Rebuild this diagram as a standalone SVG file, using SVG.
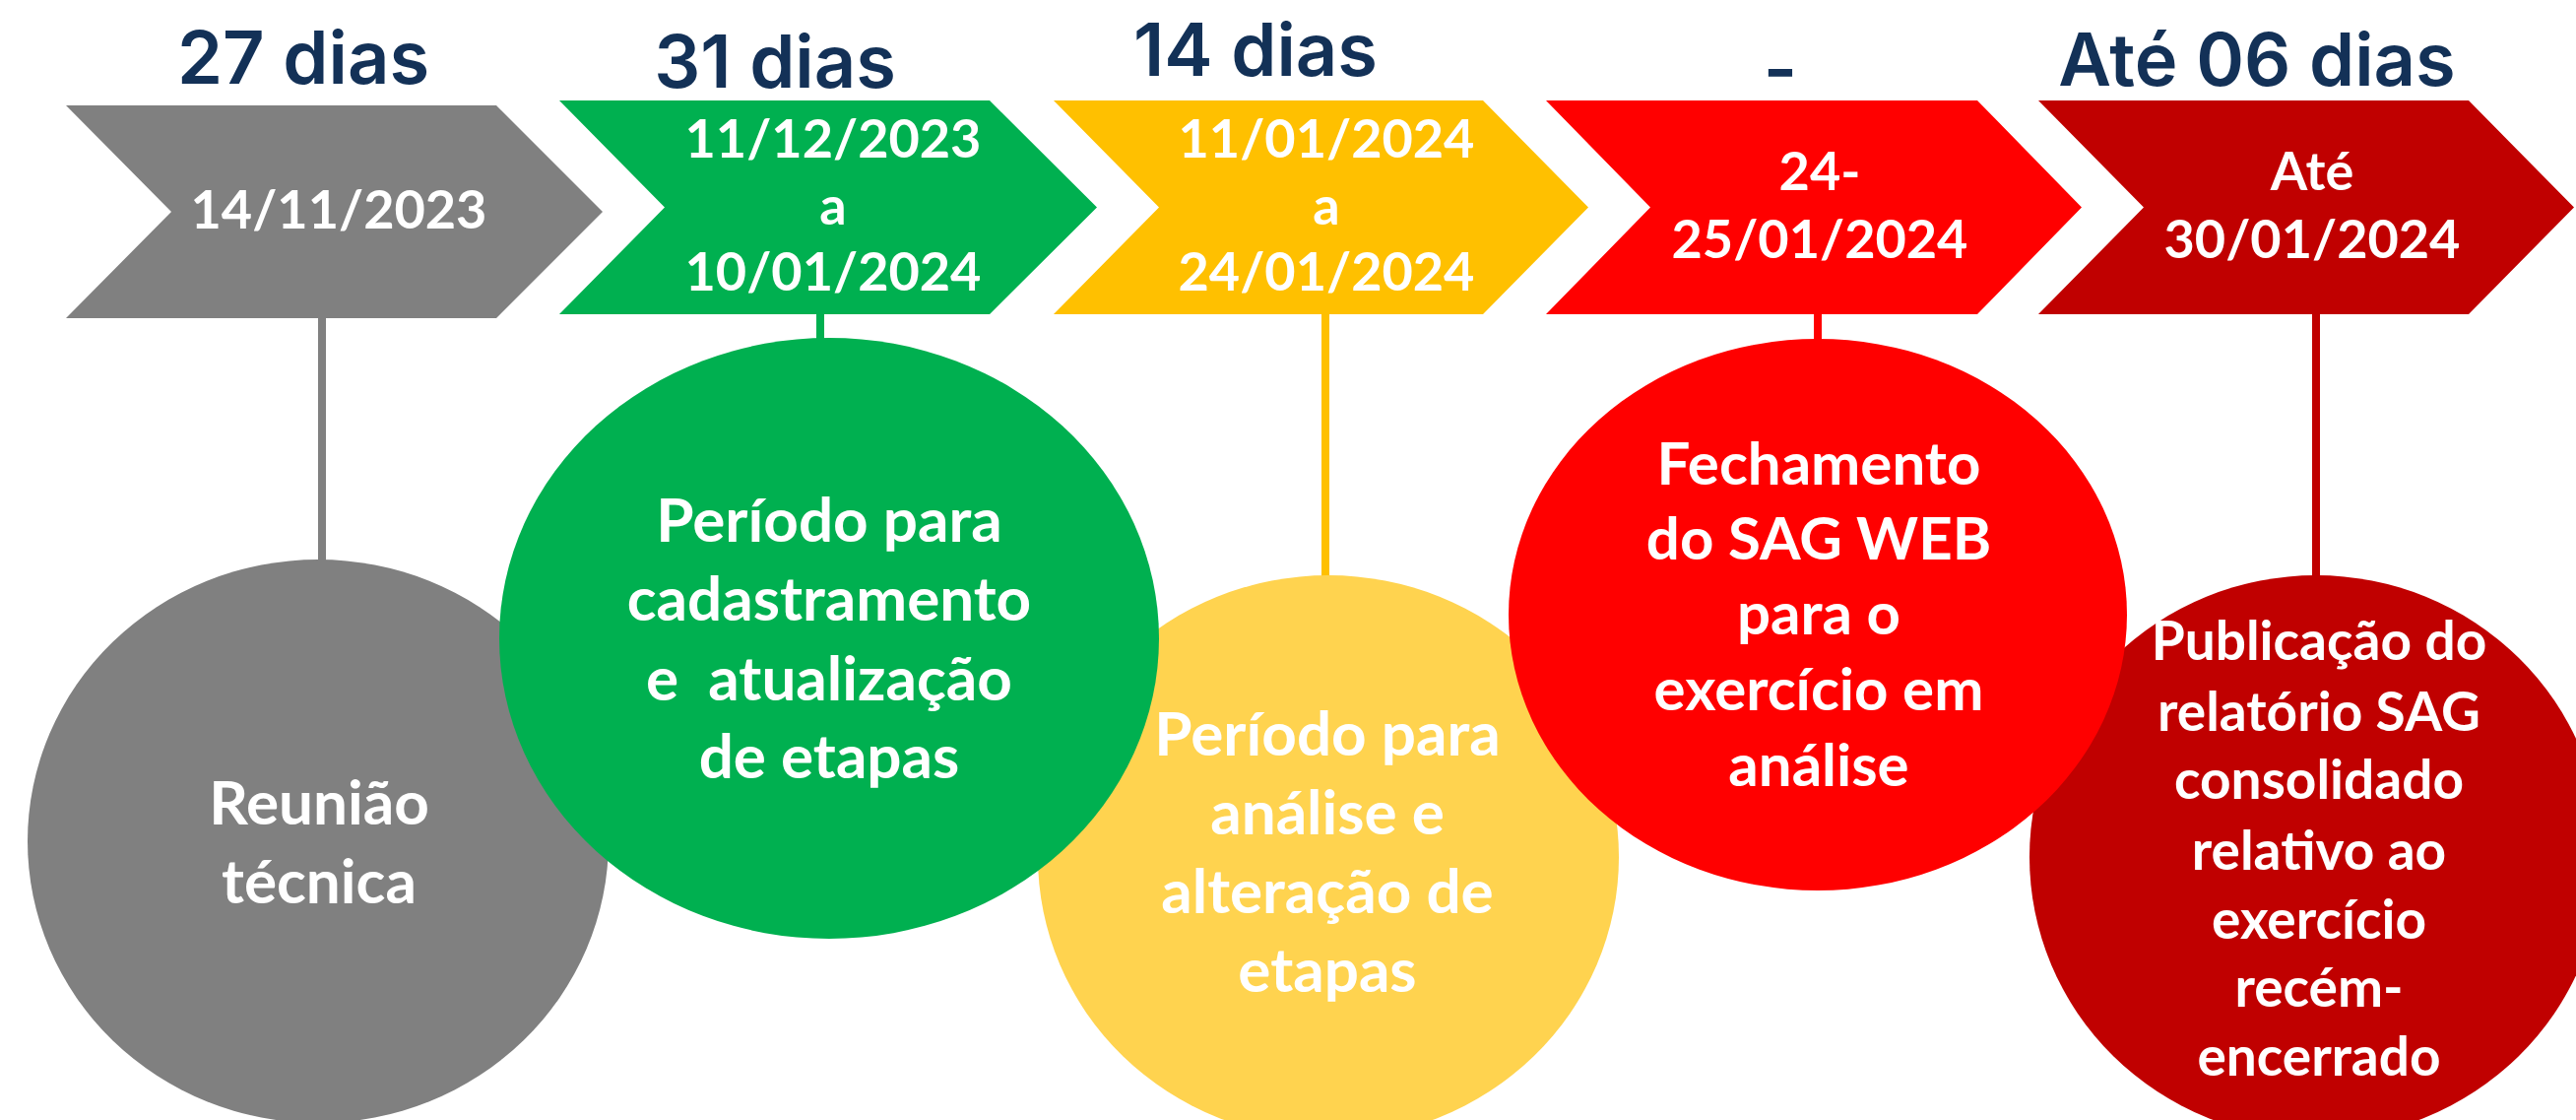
<svg xmlns="http://www.w3.org/2000/svg" width="2616" height="1137" viewBox="0 0 2616 1137">
<style>
.hd{font-family:Inter,"Noto Sans",sans-serif;font-weight:600;font-size:74px;fill:#133157;text-anchor:middle}
.dt{font-family:Lato,"Open Sans",sans-serif;font-weight:700;font-size:54px;fill:#fff;text-anchor:middle}
.bt{font-family:Lato,"Open Sans",sans-serif;font-weight:700;font-size:62px;fill:#fff;text-anchor:middle;white-space:pre}
.br{font-family:Lato,"Open Sans",sans-serif;font-weight:700;font-size:60px;fill:#fff;text-anchor:middle}
.bs{font-family:Lato,"Open Sans",sans-serif;font-weight:700;font-size:55px;fill:#fff;text-anchor:middle}
.ln{stroke-width:8;fill:none}
</style>
<rect width="2616" height="1137" fill="#fff"/>
<g id="headings">
<text class="hd" x="308" y="85">27 dias</text>
<text class="hd" x="787" y="89">31 dias</text>
<text class="hd" x="1275" y="77">14 dias</text>
<text class="hd" x="1808" y="96">-</text>
<text class="hd" x="2292" y="87">Até 06 dias</text>
</g>
<g id="connectors">
<line class="ln" x1="327" y1="323" x2="327" y2="572" stroke="#808080"/>
<line class="ln" x1="833" y1="319" x2="833" y2="348" stroke="#00B050"/>
<line class="ln" x1="1346" y1="319" x2="1346" y2="588" stroke="#FFC000"/>
<line class="ln" x1="1846" y1="319" x2="1846" y2="348" stroke="#FF0000"/>
<line class="ln" x1="2352" y1="319" x2="2352" y2="588" stroke="#C00000"/>
</g>
<g id="chevron-1">
<path d="M67,107 H504 L612,215 L504,323 H67 L174,215 Z" fill="#808080"/>
<text class="dt" x="344" y="232">14/11/2023</text>
</g>
<g id="chevron-2">
<path d="M568,102 H1005 L1114,210.5 L1005,319 H568 L675,210.5 Z" fill="#00B050"/>
<text class="dt" x="846" y="160">11/12/2023</text>
<text class="dt" x="846" y="228">a</text>
<text class="dt" x="846" y="295">10/01/2024</text>
</g>
<g id="chevron-3">
<path d="M1070,102 H1506 L1613,210.5 L1506,319 H1070 L1177,210.5 Z" fill="#FFC000"/>
<text class="dt" x="1347" y="160">11/01/2024</text>
<text class="dt" x="1347" y="228">a</text>
<text class="dt" x="1347" y="295">24/01/2024</text>
</g>
<g id="chevron-4">
<path d="M1570,102 H2008 L2114,210.5 L2008,319 H1570 L1676,210.5 Z" fill="#FF0000"/>
<text class="dt" x="1848" y="193">24-</text>
<text class="dt" x="1848" y="262">25/01/2024</text>
</g>
<g id="chevron-5">
<path d="M2070,102 H2507 L2614,210.5 L2507,319 H2070 L2177,210.5 Z" fill="#C00000"/>
<text class="dt" x="2348" y="193">Até</text>
<text class="dt" x="2348" y="262">30/01/2024</text>
</g>
<g id="node-1">
<ellipse cx="323" cy="854" rx="295" ry="286" fill="#808080"/>
<text class="bt" x="324" y="837">Reunião</text>
<text class="bt" x="324" y="917">técnica</text>
</g>
<g id="node-3">
<ellipse cx="1349" cy="870" rx="295" ry="286" fill="#FFD34F"/>
<text class="bt" x="1348" y="767">Período para</text>
<text class="bt" x="1348" y="847">análise e</text>
<text class="bt" x="1348" y="927">alteração de</text>
<text class="bt" x="1348" y="1007">etapas</text>
</g>
<g id="node-5">
<ellipse cx="2352" cy="870" rx="291" ry="286" fill="#C00000"/>
<text class="bs" x="2355" y="670">Publicação do</text>
<text class="bs" x="2355" y="742">relatório SAG</text>
<text class="bs" x="2355" y="811">consolidado</text>
<text class="bs" x="2355" y="883">relativo ao</text>
<text class="bs" x="2355" y="953">exercício</text>
<text class="bs" x="2355" y="1022">recém-</text>
<text class="bs" x="2355" y="1092">encerrado</text>
</g>
<g id="node-2">
<ellipse cx="842" cy="648" rx="335" ry="305" fill="#00B050"/>
<text class="bt" x="842" y="550">Período para</text>
<text class="bt" x="842" y="630">cadastramento</text>
<text class="bt" x="842" y="711">e  atualização</text>
<text class="bt" x="842" y="790">de etapas</text>
</g>
<g id="node-4">
<ellipse cx="1846" cy="624" rx="314" ry="280" fill="#FF0000"/>
<text class="br" x="1847" y="492">Fechamento</text>
<text class="br" x="1847" y="568">do SAG WEB</text>
<text class="br" x="1847" y="644">para o</text>
<text class="br" x="1847" y="721">exercício em</text>
<text class="br" x="1847" y="798">análise</text>
</g>
</svg>
